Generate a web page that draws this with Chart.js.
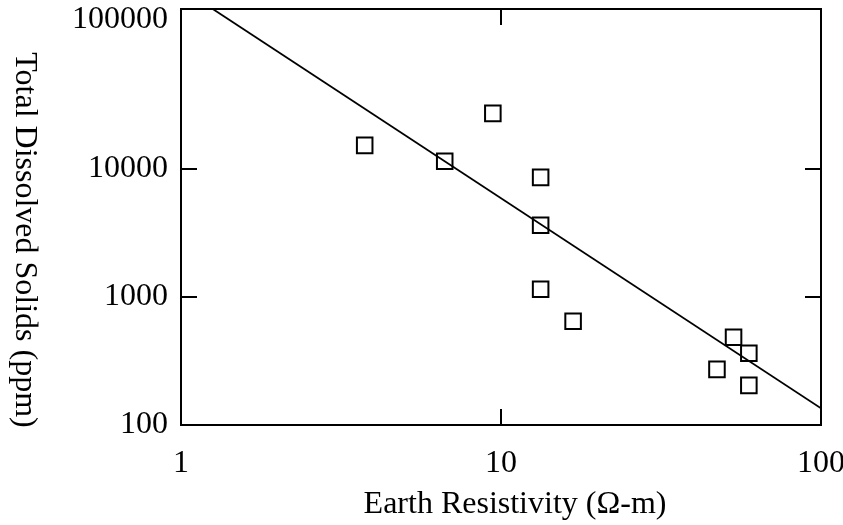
<!doctype html>
<html>

<head>
    <title>TDS vs Earth Resistivity</title>
    <script src="https://cdn.jsdelivr.net/npm/chart.js@4/dist/chart.umd.min.js"></script>
    <style>
        html, body { margin: 0; padding: 0; background: #fff; }
        canvas { display: block; }
    </style>
</head>

<body>
    <canvas id="chart-area" width="843" height="525"></canvas>
    <script>
    // measured samples
    var resistivity = [3.75, 6.67, 9.43, 13.3, 13.3, 13.3, 16.8, 53.3, 59.5, 47.3, 59.5];
    var tds = [15300, 11500, 27200, 8600, 3630, 1150, 646, 484, 363, 272, 204];

    // power-law fit line, end points
    var fitX = [1, 100];
    var fitY = [258800, 135];

    var xTicks = [1, 10, 100];
    var xTickLabels = ['1', '10', '100'];
    var yTicks = [100, 1000, 10000, 177828];
    var yTickLabels = ['100', '1000', '10000', '100000'];
    var xRange = [1, 100];
    var yRange = [100, 177828];

    var serif = '"Liberation Serif", "Times New Roman", serif';

    function toPoints(xs, ys) {
        return xs.map(function(x, i) { return {x: x, y: ys[i]}; });
    }

    function setTicks(values) {
        return function(scale) {
            scale.ticks = values.map(function(v) { return {value: v}; });
        };
    }

    // fixed box sizes so the frame lands where it should
    function fixSize(w, h) {
        return function(scale) {
            if (w !== null) scale.width = w;
            if (h !== null) scale.height = h;
            scale.paddingTop = 0;
            scale.paddingBottom = 0;
            scale.paddingLeft = 0;
            scale.paddingRight = 0;
        };
    }

    // inward tick marks drawn on all four sides
    function frameGrid() {
        return {
            display: true,
            drawOnChartArea: false,
            drawTicks: true,
            tickLength: -16,
            color: '#000',
            lineWidth: 2
        };
    }
    var frameBorder = {display: true, color: '#000', width: 2};

    var axisTitles = {
        id: 'axisTitles',
        afterDraw: function(chart) {
            var ctx = chart.ctx;
            ctx.save();
            ctx.fillStyle = '#000';
            ctx.font = '32px ' + serif;
            ctx.textAlign = 'center';
            ctx.textBaseline = 'alphabetic';
            ctx.fillText('Earth Resistivity (\u03A9-m)', 515, 513);
            ctx.translate(16, 240);
            ctx.rotate(Math.PI / 2);
            ctx.fillText('Total Dissolved Solids (ppm)', 0, 0);
            ctx.restore();
        }
    };

    var config = {
        type: 'scatter',
        data: {
            datasets: [{
                data: toPoints(resistivity, tds),
                pointStyle: 'rect',
                pointRadius: 11,
                pointHoverRadius: 11,
                borderColor: '#000',
                backgroundColor: 'rgba(0,0,0,0)',
                borderWidth: 2
            }, {
                data: toPoints(fitX, fitY),
                showLine: true,
                pointRadius: 0,
                borderColor: '#000',
                borderWidth: 1.8,
                fill: false
            }]
        },
        options: {
            responsive: false,
            animation: false,
            events: [],
            layout: {padding: 0, autoPadding: false},
            plugins: {
                legend: {display: false},
                tooltip: {enabled: false}
            },
            scales: {
                x: {
                    type: 'logarithmic',
                    position: 'bottom',
                    min: xRange[0],
                    max: xRange[1],
                    afterBuildTicks: setTicks(xTicks),
                    afterFit: fixSize(null, 100),
                    grid: frameGrid(),
                    border: frameBorder,
                    ticks: {
                        color: '#000',
                        padding: 35,
                        maxRotation: 0,
                        autoSkip: false,
                        font: {family: serif, size: 32},
                        callback: function(v, i) { return xTickLabels[i]; }
                    }
                },
                x2: {
                    type: 'logarithmic',
                    position: 'top',
                    min: xRange[0],
                    max: xRange[1],
                    afterBuildTicks: setTicks(xTicks),
                    afterFit: fixSize(null, 9),
                    grid: frameGrid(),
                    border: frameBorder,
                    ticks: {display: false}
                },
                y: {
                    type: 'logarithmic',
                    position: 'left',
                    min: yRange[0],
                    max: yRange[1],
                    afterBuildTicks: setTicks(yTicks),
                    afterFit: fixSize(181, null),
                    grid: frameGrid(),
                    border: frameBorder,
                    ticks: {
                        color: '#000',
                        padding: 29,
                        autoSkip: false,
                        font: {family: serif, size: 32, lineHeight: 0.66},
                        callback: function(v, i) {
                            // top label sits just under the frame corner
                            if (i === yTickLabels.length - 1) return ['', yTickLabels[i]];
                            return yTickLabels[i];
                        }
                    }
                },
                y2: {
                    type: 'logarithmic',
                    position: 'right',
                    min: yRange[0],
                    max: yRange[1],
                    afterBuildTicks: setTicks(yTicks.slice(0, 3)),
                    afterFit: fixSize(22, null),
                    grid: frameGrid(),
                    border: frameBorder,
                    ticks: {display: false}
                }
            }
        },
        plugins: [axisTitles]
    };

    window.onload = function() {
        var ctx = document.getElementById('chart-area').getContext('2d');
        window.myChart = new Chart(ctx, config);
    };
    </script>
</body>

</html>
